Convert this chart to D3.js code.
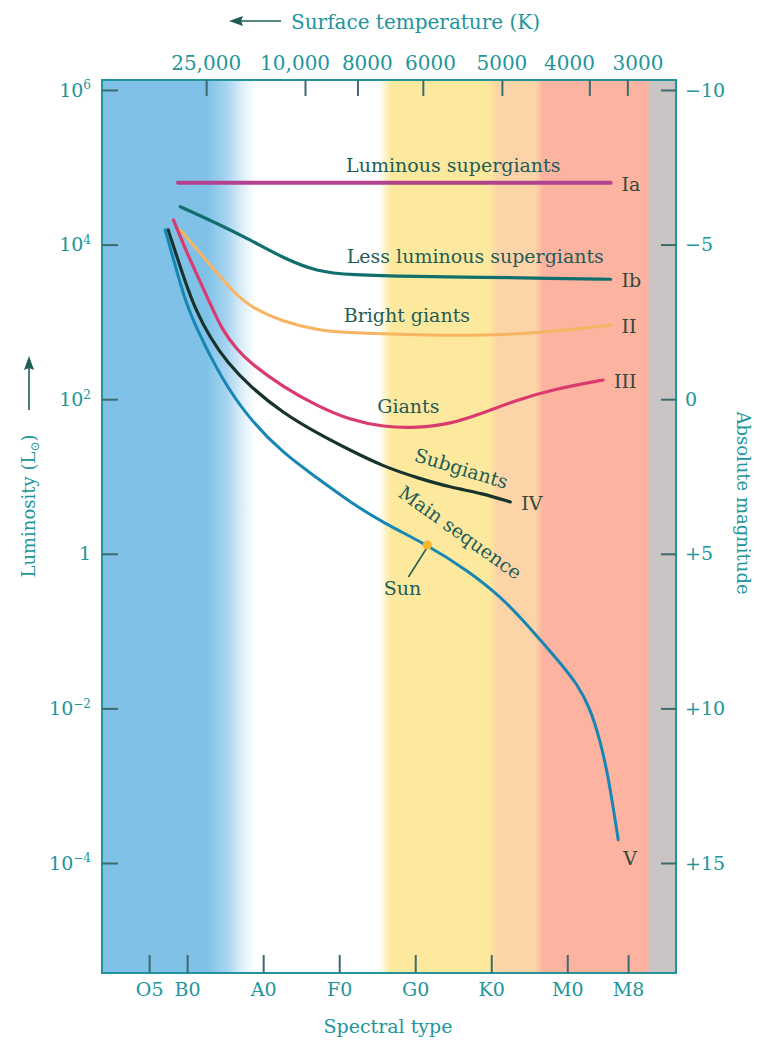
<!DOCTYPE html>
<html>
<head>
<meta charset="utf-8">
<script src="https://cdn.jsdelivr.net/npm/d3@7"></script>
<style>
  body { margin: 0; background: #fff; }
  text { font-family: "DejaVu Serif", serif; }
</style>
</head>
<body>
<div id="plot"></div>
<script>
// spectral type as a number: O0 = 0, B0 = 10, A0 = 20 ... M0 = 60
const spectralTypes = ["O5", "B0", "A0", "F0", "G0", "K0", "M0", "M8"];
const spectralIndex = [5, 10, 20, 30, 40, 50, 60, 68];

// surface temperature scale along the top
const tempLabels = ["25,000", "10,000", "8000", "6000", "5000", "4000", "3000"];
const tempTickAt = [12.5, 25.5, 32.4, 41.0, 51.4, 62.9, 67.9];
const tempLabelAt = [12.5, 24.2, 33.7, 42.0, 51.4, 60.3, 69.3];

const lumTicks = [1e6, 1e4, 1e2, 1, 1e-2, 1e-4];
const magTicks = [-10, -5, 0, 5, 10, 15];

// luminosity classes, [spectral index, L / Lsun]
const classIa = [[8.8, 6.3e4], [65.7, 6.3e4]];
const classIb = [[9.1, 30900], [13.9, 18900], [18.3, 11500], [22.7, 6650], [27.1, 4470],
  [31.4, 4050], [40.2, 3850], [49.0, 3780], [57.8, 3660], [65.7, 3560]];
const classII = [[9.1, 15450], [11.7, 7780], [13.9, 4300], [16.1, 2440], [18.3, 1560],
  [22.6, 998], [27.1, 785], [31.4, 718], [40.3, 676], [48.9, 658], [57.8, 740], [65.7, 912]];
const classIII = [[8.2, 20800], [9.7, 9040], [11.3, 4050], [13.0, 1750], [14.6, 785],
  [16.6, 433], [18.3, 294], [22.6, 144], [27.1, 81.6], [31.4, 53.8], [35.8, 43.7],
  [40.3, 42.4], [44.6, 47.7], [48.9, 66.2], [53.4, 97.7], [57.8, 131.5], [64.7, 177]];
const classIV = [[7.5, 15500], [8.6, 7240], [9.8, 3160], [11.2, 1380], [13.0, 631],
  [15.3, 295], [18.3, 145], [22.6, 66.1], [27.1, 36.3], [31.4, 21.9], [35.8, 13.5],
  [40.3, 9.55], [44.6, 7.24], [48.9, 6.03], [52.5, 4.68]];
const classV = [[7.1, 15500], [8.4, 5500], [9.7, 1910], [11.3, 794], [14.6, 178],
  [18.3, 53.7], [22.6, 20.1], [27.1, 9.55], [31.4, 4.68], [35.8, 2.51], [41.6, 1.30],
  [46.8, 0.617], [51.2, 0.284], [55.1, 0.110], [59.1, 0.0386], [61.3, 0.0207],
  [63.0, 0.0101], [64.3, 0.0039], [65.4, 0.00133], [66.7, 0.0002]];
const sun = [41.6, 1.30];

// background colour bands, [spectral index, colour]
const bandStops = [[-1.2, "#80c1e7"], [12.6, "#80c1e7"], [15.2, "#a6d4f0"], [17.2, "#dceef9"],
  [19.0, "#ffffff"], [35.2, "#ffffff"], [36.8, "#fde99d"], [49.8, "#fde99d"], [50.8, "#fdd4a7"],
  [55.8, "#fdd4a7"], [56.8, "#fcb3a0"], [70.4, "#fcb3a0"], [71.0, "#cac5c5"], [74.3, "#cac5c5"]];

let dimensions = {
  width: 757,
  height: 1047,
  left: 102,
  right: 676,
  top: 80,
  bottom: 973,
};

const teal = "#22959b";
const tickColor = "#3d6a6e";
const inkColor = "#1f5c58";

const x = d3.scaleLinear()
  .domain([-1.2, 74.3])
  .range([dimensions.left, dimensions.right]);

const y = d3.scaleLog()
  .domain([Math.pow(10, -5.423), Math.pow(10, 6.129)])
  .range([dimensions.bottom, dimensions.top]);

const mag = d3.scaleLinear()
  .domain([-10, 15])
  .range([y(1e6), y(1e-4)]);

const svg = d3.select("#plot").append("svg")
  .attr("width", dimensions.width)
  .attr("height", dimensions.height);

// colour bands
const grad = svg.append("defs").append("linearGradient")
  .attr("id", "bands")
  .attr("gradientUnits", "userSpaceOnUse")
  .attr("x1", dimensions.left).attr("x2", dimensions.right)
  .attr("y1", 0).attr("y2", 0);
grad.selectAll("stop").data(bandStops).join("stop")
  .attr("offset", d => (x(d[0]) - dimensions.left) / (dimensions.right - dimensions.left))
  .attr("stop-color", d => d[1]);

svg.append("rect")
  .attr("x", dimensions.left).attr("y", dimensions.top)
  .attr("width", dimensions.right - dimensions.left)
  .attr("height", dimensions.bottom - dimensions.top)
  .attr("fill", "url(#bands)");

// curves
const line = d3.line()
  .x(d => x(d[0]))
  .y(d => y(d[1]))
  .curve(d3.curveBasis);

const classes = [
  { name: "Ia", data: classIa, color: "#b3428e", w: 4 },
  { name: "Ib", data: classIb, color: "#106f6d", w: 3.2 },
  { name: "II", data: classII, color: "#f7b462", w: 3 },
  { name: "III", data: classIII, color: "#da3b6e", w: 3.2 },
  { name: "IV", data: classIV, color: "#17332b", w: 3.2 },
  { name: "V", data: classV, color: "#1686b5", w: 3 },
];

svg.append("g").selectAll("path")
  .data(classes)
  .join("path")
  .attr("d", d => line(d.data))
  .attr("fill", "none")
  .attr("stroke", d => d.color)
  .attr("stroke-width", d => d.w)
  .attr("stroke-linecap", "round");

// roman numerals at the end of each class
svg.append("g").selectAll("text")
  .data(classes)
  .join("text")
  .attr("x", d => x(d.data[d.data.length - 1][0]) + (d.name === "V" ? 5 : 11))
  .attr("y", d => y(d.data[d.data.length - 1][1]) + (d.name === "V" ? 18 : 1))
  .attr("dominant-baseline", "central")
  .attr("font-size", 19)
  .attr("fill", "#34483e")
  .text(d => d.name);

// curve names
const curveLabels = [
  { text: "Luminous supergiants", s: 45.0, L: 8.7e4, angle: 0 },
  { text: "Less luminous supergiants", s: 47.9, L: 5.8e3, angle: 0 },
  { text: "Bright giants", s: 38.9, L: 1.0e3, angle: 0 },
  { text: "Giants", s: 39.1, L: 66, angle: 0 },
  { text: "Subgiants", s: 45.8, L: 10.5, angle: 17 },
  { text: "Main sequence", s: 45.4, L: 1.6, angle: 35.5 },
];

svg.append("g").selectAll("text")
  .data(curveLabels)
  .join("text")
  .attr("transform", d => `translate(${x(d.s)},${y(d.L)}) rotate(${d.angle})`)
  .attr("text-anchor", "middle")
  .attr("font-size", 19)
  .attr("fill", inkColor)
  .text(d => d.text);

// the Sun
svg.append("line")
  .attr("x1", x(sun[0])).attr("y1", y(sun[1]) + 2)
  .attr("x2", x(sun[0]) - 19).attr("y2", y(sun[1]) + 32)
  .attr("stroke", inkColor).attr("stroke-width", 1.5);
svg.append("circle")
  .attr("cx", x(sun[0])).attr("cy", y(sun[1]))
  .attr("r", 4.5)
  .attr("fill", "#f6b52c");
svg.append("text")
  .attr("x", x(sun[0]) - 25).attr("y", y(sun[1]) + 50)
  .attr("text-anchor", "middle")
  .attr("font-size", 19)
  .attr("fill", inkColor)
  .text("Sun");

// frame
svg.append("rect")
  .attr("x", dimensions.left).attr("y", dimensions.top)
  .attr("width", dimensions.right - dimensions.left)
  .attr("height", dimensions.bottom - dimensions.top)
  .attr("fill", "none")
  .attr("stroke", teal)
  .attr("stroke-width", 2);

var styleAxis = function (g) {
  g.attr("font-family", "DejaVu Serif").attr("font-size", 19);
  g.select(".domain").remove();
  g.selectAll(".tick line").attr("stroke", tickColor).attr("stroke-width", 2);
  g.selectAll(".tick text").attr("fill", teal);
};

// spectral type axis
svg.append("g")
  .attr("transform", `translate(0,${dimensions.bottom})`)
  .call(d3.axisBottom(x)
    .tickValues(spectralIndex)
    .tickFormat((d, i) => spectralTypes[i])
    .tickSize(-18)
    .tickPadding(10))
  .call(styleAxis);

// temperature ticks
svg.append("g")
  .attr("transform", `translate(0,${dimensions.top})`)
  .call(d3.axisTop(x)
    .tickValues(tempTickAt)
    .tickFormat("")
    .tickSize(-16))
  .call(styleAxis);

svg.append("g").selectAll("text")
  .data(tempLabels)
  .join("text")
  .attr("x", (d, i) => x(tempLabelAt[i]))
  .attr("y", 70)
  .attr("text-anchor", "middle")
  .attr("font-size", 20)
  .attr("fill", teal)
  .text(d => d);

// luminosity axis
svg.append("g")
  .attr("transform", `translate(${dimensions.left},0)`)
  .call(d3.axisLeft(y)
    .tickValues(lumTicks)
    .tickFormat("")
    .tickSize(-16)
    .tickPadding(11))
  .call(styleAxis)
  .call(g => g.selectAll(".tick text").each(function (d) {
    const e = Math.round(Math.log10(d));
    const t = d3.select(this);
    if (e === 0) {
      t.text("1");
    } else {
      t.append("tspan").text("10");
      t.append("tspan")
        .attr("dy", "-0.6em")
        .attr("font-size", 12)
        .text(e < 0 ? "\u2212" + (-e) : e);
    }
  }));

// absolute magnitude axis
svg.append("g")
  .attr("transform", `translate(${dimensions.right},0)`)
  .call(d3.axisRight(mag)
    .tickValues(magTicks)
    .tickFormat(d => d > 0 ? "+" + d : d < 0 ? "\u2212" + (-d) : "0")
    .tickSize(-15)
    .tickPadding(9))
  .call(styleAxis);

// axis titles
svg.append("text")
  .attr("x", 291).attr("y", 29)
  .attr("font-size", 20)
  .attr("fill", teal)
  .text("Surface temperature (K)");
svg.append("line")
  .attr("x1", 281).attr("y1", 21).attr("x2", 240).attr("y2", 21)
  .attr("stroke", inkColor).attr("stroke-width", 1.6);
svg.append("path")
  .attr("d", "M229,21 L243,16 L241,21 L243,26 Z")
  .attr("fill", inkColor);

svg.append("text")
  .attr("x", 388).attr("y", 1033)
  .attr("text-anchor", "middle")
  .attr("font-size", 19)
  .attr("fill", teal)
  .text("Spectral type");

const lumTitle = svg.append("text")
  .attr("transform", "translate(35,506) rotate(-90)")
  .attr("text-anchor", "middle")
  .attr("font-size", 18)
  .attr("fill", teal);
lumTitle.append("tspan").text("Luminosity (L");
lumTitle.append("tspan").attr("font-size", 12).attr("dy", "0.3em").text("\u2299");
lumTitle.append("tspan").attr("dy", "-0.2em").text(")");

svg.append("line")
  .attr("x1", 29).attr("y1", 410).attr("x2", 29).attr("y2", 367)
  .attr("stroke", inkColor).attr("stroke-width", 1.6);
svg.append("path")
  .attr("d", "M29,356 L24,370 L29,368 L34,370 Z")
  .attr("fill", inkColor);

svg.append("text")
  .attr("transform", "translate(737,503) rotate(90)")
  .attr("text-anchor", "middle")
  .attr("font-size", 18)
  .attr("fill", teal)
  .text("Absolute magnitude");
</script>
</body>
</html>
